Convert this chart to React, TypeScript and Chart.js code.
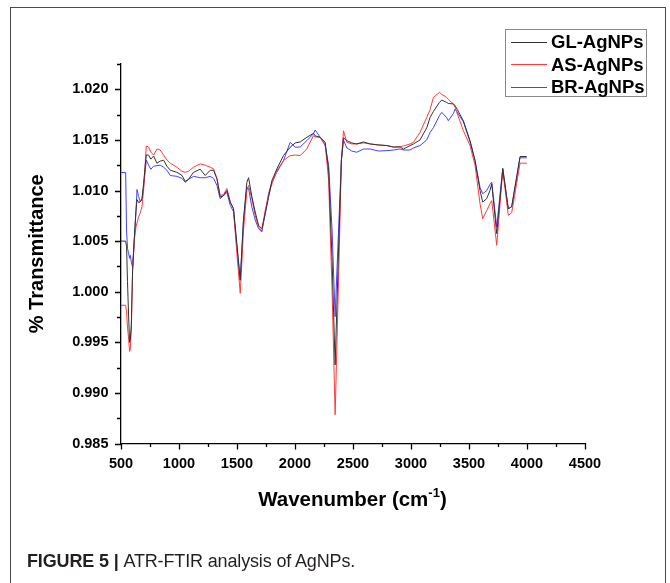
import React, { useEffect, useRef } from "react";
import { Chart, registerables } from "chart.js";

Chart.register(...registerables);

const wavenumbers = [
  500, 540, 548, 556, 566, 574, 580, 589, 600, 615, 629, 638, 652, 666, 681, 695, 718, 738, 757, 781,
  810, 838, 867, 896, 925, 982, 1025, 1054, 1082, 1125, 1183, 1226, 1269, 1298, 1327, 1355, 1384, 1413,
  1442, 1470, 1499, 1528, 1556, 1585, 1600, 1628, 1657, 1686, 1714, 1743, 1772, 1801, 1844, 1901, 1958,
  2002, 2045, 2102, 2159, 2174, 2217, 2260, 2290, 2320, 2346, 2375, 2400, 2418, 2447, 2490, 2533, 2590,
  2648, 2720, 2792, 2850, 2906, 2935, 2992, 3021, 3078, 3136, 3165, 3193, 3245, 3265, 3308, 3322, 3365,
  3380, 3451, 3509, 3552, 3595, 3618, 3653, 3681, 3696, 3739, 3791, 3839, 3868, 3940, 3998,
];

const glValues = [
  1.005, 1.005, 1.0045, 1.001, 0.9975, 0.995, 0.9952, 0.9968, 1.0021, 1.0054, 1.008, 1.0091, 1.0088, 1.0089,
  1.0092, 1.0107, 1.01352, 1.0135, 1.0131, 1.0134, 1.0127, 1.0129, 1.013, 1.0124, 1.012, 1.0118, 1.0115,
  1.0109, 1.0111, 1.0118, 1.0121, 1.01148, 1.012, 1.012, 1.01116, 1.00935, 1.0095, 1.01, 1.00885, 1.0082,
  1.00476, 1.00114, 1.0071, 1.01082, 1.01126, 1.0094, 1.00787, 1.00656, 1.00623, 1.00771, 1.0093, 1.01099,
  1.01214, 1.01345, 1.01427, 1.0147, 1.0148, 1.01526, 1.01565, 1.0154, 1.01526, 1.01476, 1.012, 1.003,
  0.99277, 1.004, 1.013, 1.0152, 1.01493, 1.0147, 1.0146, 1.0148, 1.0146, 1.0145, 1.01444, 1.0143, 1.0143,
  1.0141, 1.01444, 1.0146, 1.015, 1.0162, 1.01723, 1.0178, 1.0187, 1.01894, 1.0187, 1.0186, 1.01855, 1.0184,
  1.0169, 1.01493, 1.01296, 1.01, 1.00885, 1.0092, 1.01, 1.01066, 1.00574, 1.01214, 1.0082, 1.0084, 1.01336,
  1.01336,
];

const asValues = [
  0.99866, 0.99866, 0.998, 0.9965, 0.9953, 0.9941, 0.9943, 0.9962, 1.0021, 1.0051, 1.0064, 1.0068, 1.0074,
  1.0078, 1.0084, 1.0101, 1.0144, 1.0143, 1.0138, 1.0135, 1.0141, 1.014, 1.0135, 1.013, 1.0127, 1.0123,
  1.0119, 1.0118, 1.0119, 1.0123, 1.01264, 1.0125, 1.0123, 1.01214, 1.0112, 1.00951, 1.0096, 1.0102,
  1.00885, 1.0082, 1.00377, 0.99983, 1.00607, 1.01, 1.0105, 1.0092, 1.00754, 1.0064, 1.006, 1.00803, 1.0095,
  1.01066, 1.01198, 1.01296, 1.01345, 1.0135, 1.01345, 1.01411, 1.01542, 1.0153, 1.01526, 1.0146, 1.011,
  1.0, 0.98784, 1.001, 1.013, 1.0159, 1.01476, 1.0146, 1.0146, 1.0147, 1.0146, 1.0145, 1.01444, 1.01428,
  1.01434, 1.0144, 1.0146, 1.01476, 1.01575, 1.01723, 1.018, 1.0192, 1.01969, 1.0195, 1.0192, 1.019,
  1.01855, 1.0182, 1.01592, 1.01444, 1.0125, 1.0087, 1.00722, 1.008, 1.0087, 1.009, 1.00459, 1.01198,
  1.00754, 1.0078, 1.0127, 1.0127,
];

const brValues = [
  1.01178, 1.01178, 1.006, 1.0043, 1.00375, 1.0033, 1.0036, 1.00293, 1.00243, 1.0051, 1.0079, 1.0101,
  1.0094, 1.0089, 1.0091, 1.0104, 1.013, 1.0125, 1.0121, 1.0124, 1.01245, 1.0125, 1.0123, 1.012, 1.01148,
  1.0114, 1.0112, 1.0108, 1.0111, 1.0114, 1.01126, 1.01126, 1.0114, 1.0112, 1.0105, 1.00919, 1.0095,
  1.0098, 1.00853, 1.0079, 1.0044, 1.00114, 1.0071, 1.01033, 1.0102, 1.00836, 1.0071, 1.00623, 1.0059,
  1.00771, 1.0097, 1.01082, 1.01181, 1.01296, 1.01476, 1.01427, 1.0143, 1.01493, 1.0156, 1.01598, 1.01526,
  1.01444, 1.0125, 1.006, 0.99753, 1.006, 1.013, 1.015, 1.0142, 1.0139, 1.01378, 1.0141, 1.0141, 1.0139,
  1.01394, 1.014, 1.01411, 1.014, 1.014, 1.0142, 1.01444, 1.015, 1.01575, 1.0162, 1.0174, 1.01772, 1.0172,
  1.0169, 1.0176, 1.01805, 1.0168, 1.0148, 1.01296, 1.0103, 1.00968, 1.01, 1.0106, 1.01082, 1.0064, 1.0122,
  1.0082, 1.0084, 1.01323, 1.01323,
];

const seriesNames = ["GL-AgNPs", "AS-AgNPs", "BR-AgNPs"];
const seriesColors = ["#333333", "#ff3b3b", "#4343ff"];
const xTicks = [500, 1000, 1500, 2000, 2500, 3000, 3500, 4000, 4500];
const yTicks = [0.985, 0.99, 0.995, 1.0, 1.005, 1.01, 1.015, 1.02];
const xMinorStep = 250;
const yMinorStep = 0.0025;
const yMin = 0.985;
const yMax = 1.0225;

const FONT = "'Liberation Sans', Arial, Helvetica, sans-serif";

const tickMarks = {
  id: "tickMarks",
  afterDraw(chart: any) {
    const { ctx, chartArea } = chart;
    const x = chart.scales.x;
    const y = chart.scales.y;
    ctx.save();
    ctx.strokeStyle = "#000";
    ctx.lineWidth = 1.3;
    ctx.beginPath();
    for (let v = xTicks[0]; v <= xTicks[xTicks.length - 1] + 1e-9; v += xMinorStep) {
      const px = Math.round(x.getPixelForValue(v)) + 0.5;
      const major = xTicks.some((t) => Math.abs(t - v) < 1e-6);
      ctx.moveTo(px, chartArea.bottom);
      ctx.lineTo(px, chartArea.bottom + (major ? 6 : 3.5));
    }
    for (let v = yMin; v <= yMax + 1e-9; v += yMinorStep) {
      const py = Math.round(y.getPixelForValue(v)) + 0.5;
      const major = yTicks.some((t) => Math.abs(t - v) < 1e-7);
      ctx.moveTo(chartArea.left, py);
      ctx.lineTo(chartArea.left - (major ? 6 : 4), py);
    }
    ctx.stroke();
    ctx.restore();
  },
};

export default function App() {
  const canvasRef = useRef<HTMLCanvasElement | null>(null);

  useEffect(() => {
    if (!canvasRef.current) return;
    const valueSets = [glValues, asValues, brValues];
    const chart = new Chart(canvasRef.current, {
      type: "line",
      data: {
        datasets: valueSets.map((vals, i) => ({
          label: seriesNames[i],
          data: wavenumbers.map((w, j) => ({ x: w, y: vals[j] })),
          borderColor: seriesColors[i],
          backgroundColor: seriesColors[i],
          borderWidth: 1,
          pointRadius: 0,
          tension: 0,
          fill: false,
        })),
      },
      options: {
        responsive: false,
        animation: false,
        devicePixelRatio: 1,
        layout: { padding: { left: 11, right: 85, top: 64, bottom: 99.5 } },
        plugins: { legend: { display: false }, tooltip: { enabled: false } },
        scales: {
          x: {
            type: "linear",
            min: 500,
            max: 4500,
            afterFit: (s: any) => {
              s.height = 40;
            },
            afterBuildTicks: (s: any) => {
              s.ticks = xTicks.map((v) => ({ value: v }));
            },
            ticks: {
              color: "#000",
              font: { family: FONT, size: 14.5, weight: "bold" },
              padding: 12,
              maxRotation: 0,
              callback: (v: any) => String(v),
            },
            grid: { display: true, drawOnChartArea: false, drawTicks: false },
            border: { display: true, color: "#000", width: 1.3 },
          },
          y: {
            type: "linear",
            min: yMin,
            max: yMax,
            afterFit: (s: any) => {
              s.width = 110;
            },
            afterBuildTicks: (s: any) => {
              s.ticks = yTicks.map((v) => ({ value: v }));
            },
            ticks: {
              color: "#000",
              font: { family: FONT, size: 14.5, weight: "bold" },
              padding: 12.5,
              callback: (v: any) => Number(v).toFixed(3),
            },
            title: {
              display: true,
              text: "% Transmittance",
              color: "#000",
              font: { family: FONT, size: 20, weight: "bold" },
              padding: { top: 14, bottom: 0 },
            },
            grid: { display: true, drawOnChartArea: false, drawTicks: false },
            border: { display: true, color: "#000", width: 1.3 },
          },
        },
      },
      plugins: [tickMarks],
    } as any);
    return () => chart.destroy();
  }, []);

  return (
    <div
      style={{
        position: "absolute",
        left: 0,
        top: 0,
        width: 670,
        height: 583,
        overflow: "hidden",
        background: "#fff",
        fontFamily: FONT,
      }}
    >
      <div
        style={{
          position: "absolute",
          left: 10,
          top: 7,
          width: 656,
          height: 620,
          border: "1.5px solid #4a4a4a",
          boxSizing: "border-box",
        }}
      />
      <canvas
        ref={canvasRef}
        width={670}
        height={583}
        style={{ position: "absolute", left: 0, top: 0, width: 670, height: 583 }}
      />
      <div
        style={{
          position: "absolute",
          left: 505,
          top: 29,
          width: 142,
          height: 68,
          border: "1px solid #8a8a8a",
          boxSizing: "border-box",
          background: "#fff",
        }}
      >
        {seriesNames.map((name, i) => (
          <div
            key={name}
            style={{
              position: "absolute",
              left: 0,
              top: 1 + i * 22.5,
              height: 22,
              width: 142,
              display: "flex",
              alignItems: "center",
            }}
          >
            <div
              style={{
                marginLeft: 5,
                width: 36,
                height: 1,
                background: seriesColors[i],
                flexShrink: 0,
              }}
            />
            <span
              style={{
                marginLeft: 4,
                fontWeight: "bold",
                fontSize: 18.5,
                color: "#000",
                whiteSpace: "nowrap",
              }}
            >
              {name}
            </span>
          </div>
        ))}
      </div>
      <div
        style={{
          position: "absolute",
          left: 120,
          width: 465,
          top: 485,
          textAlign: "center",
          fontWeight: "bold",
          fontSize: 20.5,
          color: "#000",
          lineHeight: "28px",
          whiteSpace: "nowrap",
        }}
      >
        Wavenumber (cm
        <sup style={{ fontSize: 13, verticalAlign: "9px", lineHeight: 0 }}>-1</sup>)
      </div>
      <div
        style={{
          position: "absolute",
          left: 27,
          top: 550,
          fontSize: 18,
          letterSpacing: "-0.15px",
          color: "#231f20",
          whiteSpace: "nowrap",
          lineHeight: "22px",
        }}
      >
        <span style={{ fontWeight: "bold" }}>FIGURE 5 | </span>ATR-FTIR analysis of AgNPs.
      </div>
    </div>
  );
}
